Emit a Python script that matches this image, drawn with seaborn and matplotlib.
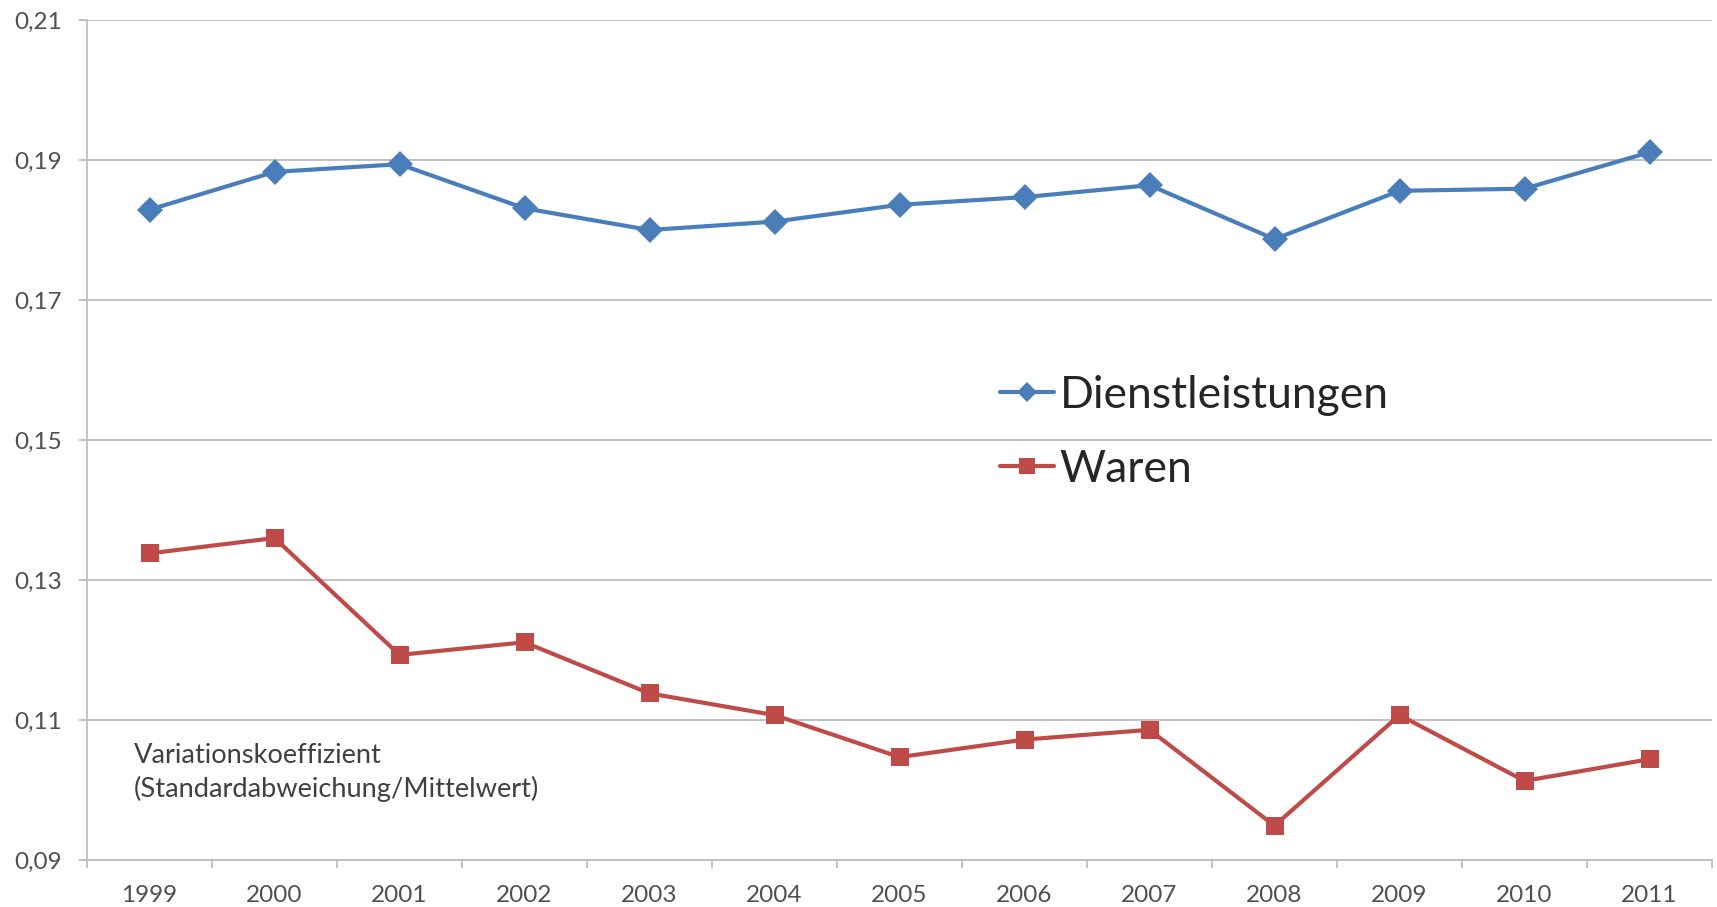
import matplotlib
matplotlib.use("Agg")
import matplotlib.pyplot as plt
import seaborn as sns
import pandas as pd
from matplotlib.lines import Line2D
from matplotlib.ticker import FuncFormatter

years = ["1999", "2000", "2001", "2002", "2003", "2004", "2005", "2006",
         "2007", "2008", "2009", "2010", "2011"]
dienstleistungen = [0.1829, 0.1883, 0.1894, 0.1831, 0.1800, 0.1812, 0.1836,
                    0.1847, 0.1864, 0.1787, 0.1856, 0.1859, 0.1911]
waren = [0.1338, 0.1360, 0.1193, 0.1211, 0.1138, 0.1107, 0.1047,
         0.1072, 0.1086, 0.0949, 0.1107, 0.1013, 0.1044]
series_names = ["Dienstleistungen", "Waren"]
y_ticks = [0.09, 0.11, 0.13, 0.15, 0.17, 0.19, 0.21]
note = "Variationskoeffizient\n(Standardabweichung/Mittelwert)"

sns.set_style("white")
plt.rcParams["font.family"] = ["Lato", "DejaVu Sans"]

df = pd.DataFrame({
    "Jahr": years * 2,
    "Wert": dienstleistungen + waren,
    "Reihe": [series_names[0]] * len(years) + [series_names[1]] * len(years),
})

blue = "#4A7EBB"
red = "#BE4B48"
palette = {series_names[0]: blue, series_names[1]: red}
markers = {series_names[0]: "D", series_names[1]: "s"}

fig = plt.figure(figsize=(17.17, 9.07), dpi=100)
ax = fig.add_axes([87 / 1717, 1 - 860 / 907, 1625 / 1717, 840 / 907])

sns.lineplot(data=df, x="Jahr", y="Wert", hue="Reihe", style="Reihe",
             markers=markers, dashes=False, palette=palette, ax=ax,
             linewidth=3.0, markersize=13, markeredgewidth=0, legend=False)

ax.set_xlim(-0.5, len(years) - 0.5)
ax.set_ylim(y_ticks[0], y_ticks[-1])
ax.set_yticks(y_ticks)
ax.yaxis.set_major_formatter(FuncFormatter(lambda v, p: f"{v:.2f}".replace(".", ",")))
ax.set_xticks(range(len(years)))
ax.set_xticklabels(years)
ax.set_xticks([i - 0.5 for i in range(len(years) + 1)], minor=True)
ax.set_xlabel("")
ax.set_ylabel("")

grid_col = "#BDBDBD"
ax.grid(axis="y", color=grid_col, linewidth=1.3)
ax.set_axisbelow(True)
for s in ["top", "right"]:
    ax.spines[s].set_visible(False)
for s in ["left", "bottom"]:
    ax.spines[s].set_color(grid_col)
    ax.spines[s].set_linewidth(1.3)

lab_col = "#505050"
ax.tick_params(axis="x", which="major", length=0, labelsize=17.5,
               labelcolor=lab_col, pad=18)
ax.tick_params(axis="x", which="minor", length=6, width=1.3, color=grid_col,
               direction="out")
ax.tick_params(axis="y", which="major", length=6, width=1.3, color=grid_col,
               direction="out", labelsize=17.5, labelcolor=lab_col, pad=12)
ax.tick_params(left=True, bottom=True)
ax.xaxis.set_tick_params(which="minor", bottom=True)

ax.text(0.029, 0.139, note, transform=ax.transAxes, ha="left", va="top",
        fontsize=19.6, color="#404040", linespacing=1.36)

handles = [
    Line2D([], [], color=blue, marker="D", markersize=10, linewidth=3.0,
           markeredgewidth=0),
    Line2D([], [], color=red, marker="s", markersize=11, linewidth=3.0,
           markeredgewidth=0),
]
fig.legend(handles, series_names, loc="upper left",
           bbox_to_anchor=(1000 / 1717, 1 - 375 / 907), frameon=False,
           fontsize=32, handlelength=1.22, handletextpad=0.12,
           labelspacing=0.74, borderpad=0, borderaxespad=0)

fig.savefig("out.png", dpi=100)
